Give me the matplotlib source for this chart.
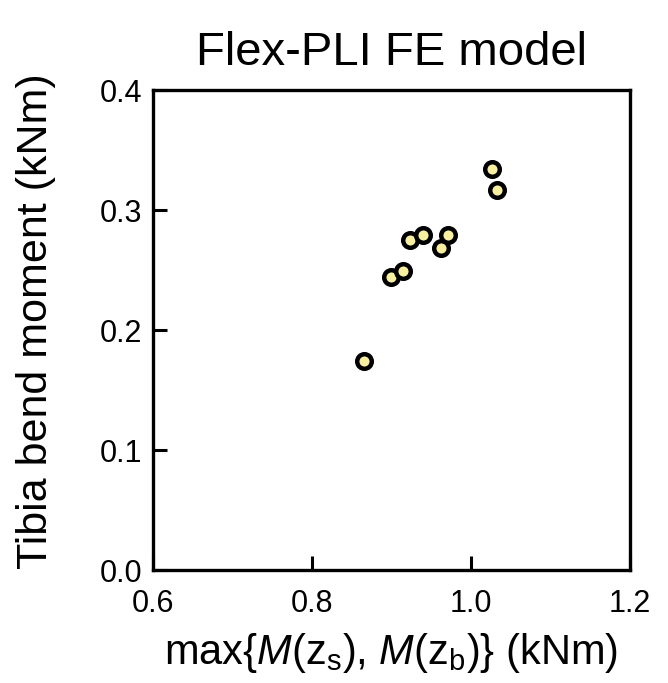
import matplotlib
matplotlib.use("Agg")
import matplotlib.pyplot as plt

plt.rcParams['font.family'] = ['Liberation Sans', 'DejaVu Sans']
plt.rcParams['mathtext.fontset'] = 'custom'
plt.rcParams['mathtext.rm'] = 'Liberation Sans'
plt.rcParams['mathtext.it'] = 'Liberation Sans:italic'
plt.rcParams['xtick.labelsize'] = 22
plt.rcParams['ytick.labelsize'] = 22

# max{M(zs), M(zb)} vs tibia bend moment, kNm
max_moment = [0.866, 0.899, 0.914, 0.923, 0.940, 0.962, 0.971, 1.026, 1.033]
tibia_bm = [0.174, 0.244, 0.249, 0.275, 0.279, 0.268, 0.279, 0.334, 0.317]

xticks = [0.6, 0.8, 1.0, 1.2]
yticks = [0.0, 0.1, 0.2, 0.3, 0.4]

fig = plt.figure(figsize=(6.68, 6.83), dpi=100)
ax = fig.add_axes([153/668, 113/683, 477/668, 480/683])

ax.plot(max_moment, tibia_bm, 'o', ms=10.5, mfc='#f8f0a0', mec='black', mew=3.2, ls='none')

ax.set_xlim(0.6, 1.2)
ax.set_ylim(0.0, 0.4)
ax.tick_params(axis='x', direction='in', length=10, width=2.2, labelsize=22, pad=14)
ax.tick_params(axis='y', direction='in', length=10, width=2.2, labelsize=22, pad=8)
ax.set_xticks(xticks)
ax.set_yticks(yticks)
ax.set_xticklabels(['%.1f' % t for t in xticks])
ax.set_yticklabels(['%.1f' % t for t in yticks])
for s in ax.spines.values():
    s.set_linewidth(2.4)

ax.set_title('Flex-PLI FE model', fontsize=34, pad=18)
ax.set_xlabel(r'max{$M$(z$_\mathrm{s}$), $M$(z$_\mathrm{b}$)} (kNm)', fontsize=30, labelpad=8)
ax.set_ylabel('Tibia bend moment (kNm)', fontsize=31)
ax.yaxis.set_label_coords(-0.203, 0.519)

fig.savefig('out.png', dpi=100)
